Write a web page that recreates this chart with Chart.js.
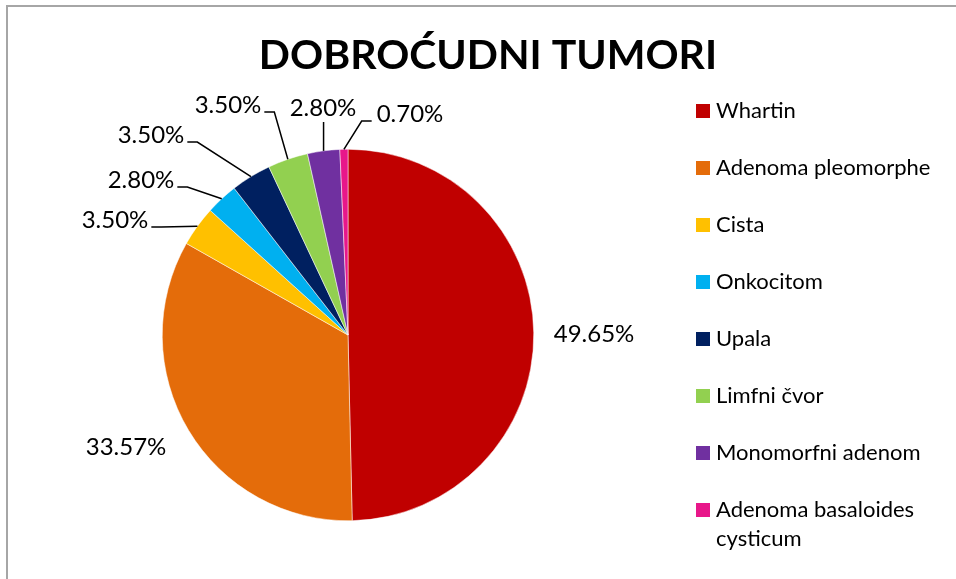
<!DOCTYPE html>
<html>
<head>
<meta charset="utf-8">
<title>Dobroćudni tumori</title>
<script src="https://cdn.jsdelivr.net/npm/chart.js@4.4.1/dist/chart.umd.min.js"></script>
<style>
  html, body { margin: 0; padding: 0; background: #fff; }
  canvas { display: block; }
</style>
</head>
<body>
<canvas id="myChart" width="956" height="579"></canvas>
<script>
const chartTitle = 'DOBROĆUDNI TUMORI';
const categories = ['Whartin', 'Adenoma pleomorphe', 'Cista', 'Onkocitom', 'Upala',
    'Limfni čvor', 'Monomorfni adenom', 'Adenoma basaloides cysticum'];
const percentages = [49.65, 33.57, 3.50, 2.80, 3.50, 3.50, 2.80, 0.70];
const sliceColors = ['#C00000', '#E46C0A', '#FFC000', '#00B0F0',
    '#002060', '#92D050', '#7030A0', '#E8178A'];

// draws the frame, title, data labels with leader lines and the legend
const pieExtras = {
    id: 'pieExtras',
    beforeDraw(chart, args, opts) {
        var c = chart.ctx;
        c.save();
        c.strokeStyle = opts.frameColor;
        c.lineWidth = 2;
        c.beginPath();
        c.moveTo(7, chart.height + 5);
        c.lineTo(7, 6);
        c.lineTo(chart.width + 5, 6);
        c.stroke();
        c.restore();
    },
    afterDraw(chart, args, opts) {
        var c = chart.ctx;
        var meta = chart.getDatasetMeta(0);
        var values = chart.data.datasets[0].data;
        c.save();
        c.fillStyle = opts.textColor;
        c.textBaseline = 'middle';

        // title
        c.textAlign = 'center';
        c.font = opts.titleFont;
        c.fillText(opts.title, opts.titleX, opts.titleY);

        // data labels
        c.font = opts.labelFont;
        c.strokeStyle = opts.textColor;
        c.lineWidth = 1.5;
        meta.data.forEach((arc, i) => {
            var mid = (arc.startAngle + arc.endAngle) / 2;
            var ex = arc.x + Math.cos(mid) * arc.outerRadius;
            var ey = arc.y + Math.sin(mid) * arc.outerRadius;
            var off = opts.labelOffsets[i];
            var lx = arc.x + off[0], ly = arc.y + off[1];
            var txt = values[i].toFixed(2) + '%';
            var w = c.measureText(txt).width;
            c.fillText(txt, lx, ly);
            if (values[i] >= 10) return;
            var left = lx - w / 2, right = lx + w / 2;
            c.beginPath();
            if (ex >= left && ex <= right) {
                c.moveTo(ex, ly + 14);
                c.lineTo(ex, ey);
            } else if (right < ex) {
                c.moveTo(right + 3, ly + 7);
                c.lineTo(right + 13, ly + 7);
                c.lineTo(ex, ey);
            } else {
                c.moveTo(left - 5, ly + 7);
                c.lineTo(left - 15, ly + 7);
                c.lineTo(ex, ey);
            }
            c.stroke();
        });

        // legend
        c.textAlign = 'left';
        c.font = opts.legendFont;
        chart.data.labels.forEach((name, i) => {
            var y = opts.legendY + i * opts.legendStep;
            c.fillStyle = sliceColors[i];
            c.fillRect(opts.legendX, y - 7, 14, 14);
            c.fillStyle = opts.textColor;
            var lines = [], line = '';
            name.split(' ').forEach(word => {
                var test = line ? line + ' ' + word : word;
                if (line && c.measureText(test).width > opts.legendWidth) {
                    lines.push(line);
                    line = word;
                } else {
                    line = test;
                }
            });
            lines.push(line);
            lines.forEach((t, k) => c.fillText(t, opts.legendX + 20, y + k * 29));
        });
        c.restore();
    }
};

const ctx = document.getElementById('myChart').getContext('2d');
const myChartObj = new Chart(ctx, {
    type: 'pie',
    data: {
        labels: categories,
        datasets: [{
            data: percentages,
            backgroundColor: sliceColors,
            borderColor: '#ffffff',
            borderWidth: 0.5,
            hoverOffset: 0,
            offset: 0
        }]
    },
    options: {
        responsive: false,
        animation: false,
        devicePixelRatio: 1,
        layout: { padding: { left: 162, right: 422, top: 149, bottom: 58 } },
        plugins: {
            legend: { display: false },
            tooltip: { enabled: false },
            pieExtras: {
                frameColor: '#a6a6a6',
                textColor: '#000000',
                title: chartTitle,
                titleFont: 'bold 41px Lato',
                titleX: 488,
                titleY: 56,
                labelFont: '24px Lato',
                labelOffsets: [[246, -1], [-222, 112], [-233, -115], [-207, -155],
                    [-197, -200], [-120, -230], [-25, -227], [62, -221]],
                legendFont: '22px Lato',
                legendX: 696,
                legendY: 111,
                legendStep: 57,
                legendWidth: 228
            }
        }
    },
    plugins: [pieExtras]
});
</script>
</body>
</html>
